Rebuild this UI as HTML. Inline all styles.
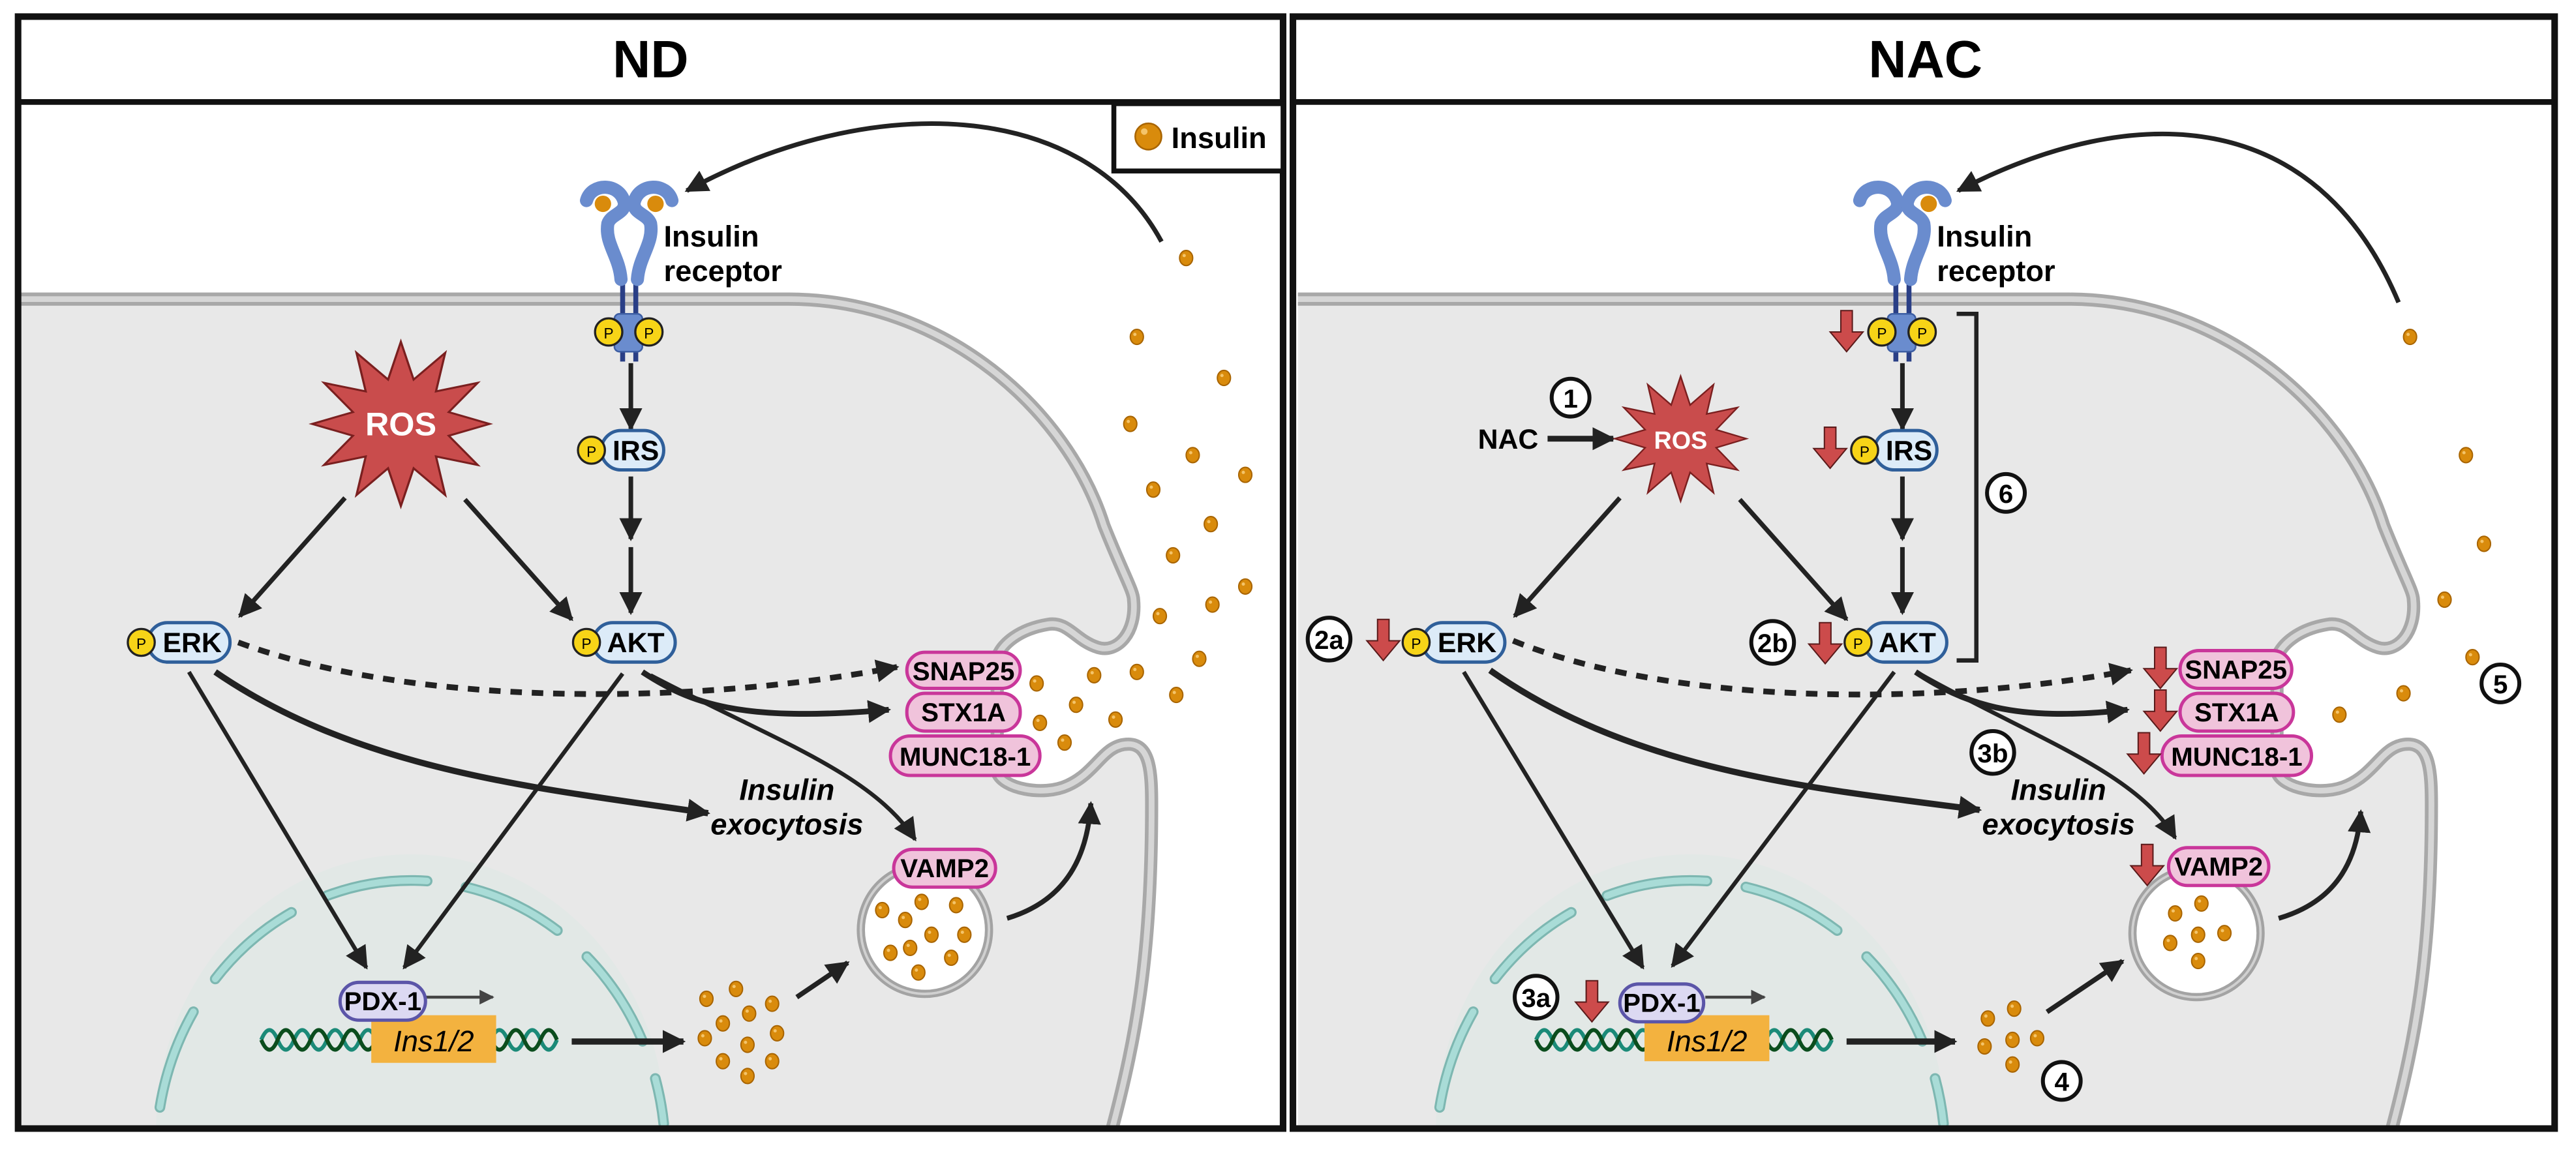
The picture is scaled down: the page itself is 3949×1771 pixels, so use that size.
<!DOCTYPE html>
<html><head><meta charset="utf-8"><style>
html,body{margin:0;padding:0;background:#fff;overflow:hidden;width:3949px;height:1771px;}
svg{display:block;overflow:hidden;}
text{font-family:"Liberation Sans",sans-serif;font-weight:bold;}
text.n{font-weight:normal;}
</style></head><body>
<svg width="3949" height="1771" viewBox="0 0 1568 703" xmlns="http://www.w3.org/2000/svg">
<defs>
<marker id="ah" markerUnits="userSpaceOnUse" markerWidth="14" markerHeight="14" viewBox="0 0 10 10" refX="9" refY="5" orient="auto"><path d="M0,0 L10,5 L0,10 Z" fill="#222"/></marker>
<marker id="ahs" markerUnits="userSpaceOnUse" markerWidth="9" markerHeight="9" viewBox="0 0 10 10" refX="9" refY="5" orient="auto"><path d="M0,0 L10,5 L0,10 Z" fill="#444"/></marker>
<g id="dot"><ellipse cx="0" cy="0" rx="4" ry="4.6" fill="#d98b0c" stroke="#a86400" stroke-width="0.8"/><circle cx="-1.2" cy="-1.5" r="1" fill="#f4c46a"/></g>
<g id="redar"><path d="M-3.5,0 h7 v13 h6.5 l-10,12 l-10,-12 h6.5 z" fill="#cc4b4b" stroke="#5a1a1a" stroke-width="0.8"/></g>
<g id="cell">
  <path d="M11 184 H480 C575 184 650 252 672 322 C684 350 690 360 690 365 C692 385 680 398 668 394 C655 390 650 378 638 380 C620 383 610 392 607 400 L607 470 C610 480 635 485 650 478 C668 470 672 452 688 453 C700 454 701 470 701 490 C701 580 692 630 677 687 L11 687 Z" fill="#e8e8e8"/>
  <path d="M11 182 H480 C575 182 650 250 672 320 C684 350 690 360 690 365 C692 385 680 398 668 394 C655 390 650 378 638 380 C620 383 610 392 607 400 L607 470 C610 480 635 485 650 478 C668 470 672 452 688 453 C700 454 701 470 701 490 C701 580 692 630 677 687" fill="none" stroke="#a8a8a8" stroke-width="8"/>
  <path d="M11 182 H480 C575 182 650 250 672 320 C684 350 690 360 690 365 C692 385 680 398 668 394 C655 390 650 378 638 380 C620 383 610 392 607 400 L607 470 C610 480 635 485 650 478 C668 470 672 452 688 453 C700 454 701 470 701 490 C701 580 692 630 677 687" fill="none" stroke="#d6d6d6" stroke-width="3.5"/>
  <path d="M95 687 A155 167 0 0 1 405 687 Z" fill="#e2e8e6"/>
  <path d="M96 684 A155 167 0 0 1 404 684" fill="none" stroke="#7db7b1" stroke-width="6.5" stroke-dasharray="62 24" stroke-dashoffset="-10" stroke-linecap="round"/>
  <path d="M96 684 A155 167 0 0 1 404 684" fill="none" stroke="#a9dcd7" stroke-width="4" stroke-dasharray="62 24" stroke-dashoffset="-10" stroke-linecap="round"/>
</g>
<g id="star"><path d="M0,-50 L7.2,-27 L25,-43.3 L19.8,-19.8 L43.3,-25 L27,-7.2 L50,0 L27,7.2 L43.3,25 L19.8,19.8 L25,43.3 L7.2,27 L0,50 L-7.2,27 L-25,43.3 L-19.8,19.8 L-43.3,25 L-27,7.2 L-50,0 L-27,-7.2 L-43.3,-25 L-19.8,-19.8 L-25,-43.3 L-7.2,-27 Z" fill="#c94c4c" stroke="#7a1f1f" stroke-width="1.2"/></g>
<g id="dna">
<path d="M0 0 q5 -12 10 0 t10 0 t10 0 t10 0 t10 0 t10 0 t10 0 t10 0 t10 0 t10 0 t10 0 t10 0 t10 0 t10 0 t10 0 t10 0 t10 0 t10 0" fill="none" stroke="#1b8a78" stroke-width="2.4"/>
<path d="M0 0 q5 12 10 0 t10 0 t10 0 t10 0 t10 0 t10 0 t10 0 t10 0 t10 0 t10 0 t10 0 t10 0 t10 0 t10 0 t10 0 t10 0 t10 0 t10 0" fill="none" stroke="#0b4d1d" stroke-width="2.4"/>
</g>
<g id="rec">
<line x1="379" y1="168" x2="379" y2="220" stroke="#2a3f86" stroke-width="3"/>
<line x1="387" y1="168" x2="387" y2="220" stroke="#2a3f86" stroke-width="3"/>
<rect x="374" y="191" width="17" height="23" rx="3" fill="#6a8cce" stroke="#3d5ea3" stroke-width="1"/>
<path d="M357 122 C360 111 377 111 380 123 C381 130 372 130 370 136 C368 148 377 156 378 170" fill="none" stroke="#6a8cce" stroke-width="8" stroke-linecap="round" stroke-linejoin="round"/>
<path d="M409 122 C406 111 389 111 386 123 C385 130 394 130 396 136 C398 148 389 156 388 170" fill="none" stroke="#6a8cce" stroke-width="8" stroke-linecap="round" stroke-linejoin="round"/>
</g>
</defs>

<!-- ============ LEFT PANEL ============ -->
<use href="#cell"/>
<g>
<use href="#dot" x="722" y="157"/><use href="#dot" x="692" y="205"/><use href="#dot" x="745" y="230"/><use href="#dot" x="688" y="258"/><use href="#dot" x="726" y="277"/><use href="#dot" x="758" y="289"/><use href="#dot" x="702" y="298"/><use href="#dot" x="737" y="319"/><use href="#dot" x="714" y="338"/><use href="#dot" x="758" y="357"/><use href="#dot" x="738" y="368"/><use href="#dot" x="706" y="375"/><use href="#dot" x="730" y="401"/><use href="#dot" x="692" y="409"/><use href="#dot" x="666" y="411"/><use href="#dot" x="631" y="416"/><use href="#dot" x="655" y="429"/><use href="#dot" x="716" y="423"/><use href="#dot" x="679" y="438"/><use href="#dot" x="633" y="440"/><use href="#dot" x="648" y="452"/>
</g>
<rect x="11" y="10" width="770" height="677" fill="none" stroke="#111" stroke-width="4"/>
<line x1="11" y1="62" x2="781" y2="62" stroke="#111" stroke-width="3.5"/>
<text x="396" y="47" font-size="32" text-anchor="middle">ND</text>
<rect x="678" y="63" width="103" height="41" fill="#fff" stroke="#111" stroke-width="3"/>
<circle cx="699" cy="83" r="8" fill="#d98b0c" stroke="#a86400" stroke-width="1"/><circle cx="696.5" cy="80" r="2" fill="#f4c46a"/>
<text x="713" y="90" font-size="18">Insulin</text>

<path d="M707 147 C660 60 530 55 418 116" fill="none" stroke="#222" stroke-width="2.8" marker-end="url(#ah)"/>

<use href="#rec"/>
<circle cx="367" cy="124" r="5" fill="#d98b0c"/><circle cx="399" cy="124" r="5" fill="#d98b0c"/>
<circle cx="370.5" cy="202" r="8.3" fill="#f7d417" stroke="#222" stroke-width="1.3"/><text class="n" x="370.5" y="206" font-size="9" text-anchor="middle">P</text>
<circle cx="395" cy="202" r="8.3" fill="#f7d417" stroke="#222" stroke-width="1.3"/><text class="n" x="395" y="206" font-size="9" text-anchor="middle">P</text>
<text x="404" y="150" font-size="18">Insulin</text>
<text x="404" y="171" font-size="18">receptor</text>

<use href="#star" transform="translate(244,258) scale(1.08,1.0)"/>
<text x="244" y="265" font-size="20" fill="#fff" text-anchor="middle">ROS</text>

<g fill="none" stroke="#222" stroke-width="2.8">
<line x1="384" y1="221" x2="384" y2="261" marker-end="url(#ah)"/>
<line x1="384" y1="290" x2="384" y2="328" marker-end="url(#ah)"/>
<line x1="384" y1="333" x2="384" y2="373" marker-end="url(#ah)"/>
<line x1="210" y1="303" x2="146" y2="375" marker-end="url(#ah)"/>
<line x1="283" y1="304" x2="348" y2="377" marker-end="url(#ah)"/>
<path d="M145 391 C250 430 420 430 546 406" stroke-width="3.5" stroke-dasharray="7 6" marker-end="url(#ah)"/>
<path d="M391 409 C420 428 450 440 541 432" stroke-width="3.5" marker-end="url(#ah)"/>
<path d="M396 411 C470 450 530 470 557 511" stroke-width="2.5" marker-end="url(#ah)"/>
<path d="M131 409 C220 470 330 480 431 495" stroke-width="3.8" marker-end="url(#ah)"/>
<line x1="115" y1="409" x2="223" y2="589" stroke-width="2.5" marker-end="url(#ah)"/>
<line x1="379" y1="410" x2="246" y2="589" stroke-width="2.5" marker-end="url(#ah)"/>
<line x1="348" y1="634" x2="416" y2="634" stroke-width="3.8" marker-end="url(#ah)"/>
<line x1="485" y1="607" x2="516" y2="586" stroke-width="3" marker-end="url(#ah)"/>
<path d="M613 559 C650 548 662 520 664 489" stroke-width="3" marker-end="url(#ah)"/>
</g>

<rect x="90" y="379" width="50" height="24" rx="12" fill="#dcebf8" stroke="#2f5f9a" stroke-width="2"/>
<text x="117" y="397" font-size="17" text-anchor="middle">ERK</text>
<circle cx="86" cy="391" r="8.2" fill="#f7d417" stroke="#222" stroke-width="1.3"/><text class="n" x="86" y="395" font-size="9" text-anchor="middle">P</text>
<rect x="361" y="379" width="50" height="24" rx="12" fill="#dcebf8" stroke="#2f5f9a" stroke-width="2"/>
<text x="387" y="397" font-size="17" text-anchor="middle">AKT</text>
<circle cx="357" cy="391" r="8.2" fill="#f7d417" stroke="#222" stroke-width="1.3"/><text class="n" x="357" y="395" font-size="9" text-anchor="middle">P</text>
<rect x="366" y="262" width="38" height="24" rx="12" fill="#dcebf8" stroke="#2f5f9a" stroke-width="2"/>
<text x="387" y="280" font-size="17" text-anchor="middle">IRS</text>
<circle cx="360" cy="274" r="8.2" fill="#f7d417" stroke="#222" stroke-width="1.3"/><text class="n" x="360" y="278" font-size="9" text-anchor="middle">P</text>

<rect x="552" y="397" width="69" height="22" rx="11" fill="#f0c3db" stroke="#c9369a" stroke-width="2"/>
<text x="586.5" y="414" font-size="16" text-anchor="middle">SNAP25</text>
<rect x="552" y="422" width="69" height="23" rx="11" fill="#f0c3db" stroke="#c9369a" stroke-width="2"/>
<text x="586.5" y="439" font-size="16" text-anchor="middle">STX1A</text>
<rect x="542" y="448" width="91" height="24" rx="12" fill="#f0c3db" stroke="#c9369a" stroke-width="2"/>
<text x="587.5" y="466" font-size="16" text-anchor="middle">MUNC18-1</text>

<text x="479" y="487" font-size="18" font-style="italic" text-anchor="middle">Insulin</text>
<text x="479" y="508" font-size="18" font-style="italic" text-anchor="middle">exocytosis</text>

<circle cx="563" cy="566" r="39" fill="#fff" stroke="#a3a3a3" stroke-width="5"/>
<circle cx="563" cy="566" r="39" fill="none" stroke="#d0d0d0" stroke-width="1.5"/>
<use href="#dot" x="537" y="554"/><use href="#dot" x="561" y="549"/><use href="#dot" x="582" y="551"/><use href="#dot" x="551" y="560"/><use href="#dot" x="567" y="569"/><use href="#dot" x="587" y="569"/><use href="#dot" x="542" y="580"/><use href="#dot" x="554" y="577"/><use href="#dot" x="579" y="583"/><use href="#dot" x="559" y="592"/>
<rect x="544" y="517" width="62" height="23" rx="11.5" fill="#f0c3db" stroke="#c9369a" stroke-width="2"/>
<text x="575" y="534" font-size="16" text-anchor="middle">VAMP2</text>

<use href="#dna" x="159" y="633"/>
<rect x="226" y="618" width="76" height="29" fill="#f3b23f"/>
<text class="n" x="264" y="640" font-size="18" font-style="italic" text-anchor="middle">Ins1/2</text>
<line x1="259" y1="607" x2="300" y2="607" stroke="#444" stroke-width="1.8" marker-end="url(#ahs)"/>
<rect x="207" y="598" width="52" height="23" rx="11.5" fill="#dcd9f2" stroke="#5b55a8" stroke-width="2"/>
<text x="233" y="615" font-size="16" text-anchor="middle">PDX-1</text>
<use href="#dot" x="430" y="608"/><use href="#dot" x="448" y="602"/><use href="#dot" x="470" y="611"/><use href="#dot" x="456" y="617"/><use href="#dot" x="440" y="623"/><use href="#dot" x="473" y="629"/><use href="#dot" x="429" y="632"/><use href="#dot" x="455" y="636"/><use href="#dot" x="440" y="646"/><use href="#dot" x="470" y="646"/><use href="#dot" x="455" y="655"/>

<!-- ============ RIGHT PANEL ============ -->
<use href="#cell" transform="translate(779,0)"/>
<use href="#dot" x="1467" y="205"/><use href="#dot" x="1501" y="277"/><use href="#dot" x="1512" y="331"/><use href="#dot" x="1488" y="365"/><use href="#dot" x="1505" y="400"/><use href="#dot" x="1463" y="422"/><use href="#dot" x="1424" y="435"/>
<rect x="787" y="10" width="768" height="677" fill="none" stroke="#111" stroke-width="4"/>
<line x1="787" y1="62" x2="1555" y2="62" stroke="#111" stroke-width="3.5"/>
<text x="1172" y="47" font-size="32" text-anchor="middle">NAC</text>

<path d="M1460 184 C1410 65 1300 60 1192 116" fill="none" stroke="#222" stroke-width="2.8" marker-end="url(#ah)"/>

<use href="#rec" transform="translate(775,0)"/>
<circle cx="1174" cy="124" r="5" fill="#d98b0c"/>
<circle cx="1145.5" cy="202" r="8.3" fill="#f7d417" stroke="#222" stroke-width="1.3"/><text class="n" x="1145.5" y="206" font-size="9" text-anchor="middle">P</text>
<circle cx="1170" cy="202" r="8.3" fill="#f7d417" stroke="#222" stroke-width="1.3"/><text class="n" x="1170" y="206" font-size="9" text-anchor="middle">P</text>
<text x="1179" y="150" font-size="18">Insulin</text>
<text x="1179" y="171" font-size="18">receptor</text>
<use href="#redar" x="1124" y="189"/>
<path d="M1191 191 H1203 V402 H1191" fill="none" stroke="#222" stroke-width="2.6"/>

<g fill="#fff" stroke="#111" stroke-width="2.4">
<circle cx="956" cy="242" r="11.5"/><circle cx="1221" cy="300" r="11.5"/><circle cx="809" cy="389" r="13"/><circle cx="1079" cy="391" r="13"/><circle cx="1213" cy="458" r="13"/><circle cx="935" cy="607" r="13"/><circle cx="1255" cy="658" r="11.5"/><circle cx="1522" cy="416" r="11.5"/>
</g>
<g font-size="16" text-anchor="middle">
<text x="956" y="248">1</text><text x="1221" y="306">6</text><text x="809" y="395">2a</text><text x="1079" y="397">2b</text><text x="1213" y="464">3b</text><text x="935" y="613">3a</text><text x="1255" y="664">4</text><text x="1522" y="422">5</text>
</g>

<text x="918" y="273" font-size="17" text-anchor="middle">NAC</text>
<line x1="942" y1="267" x2="982" y2="267" stroke="#222" stroke-width="3.5" marker-end="url(#ah)"/>
<use href="#star" transform="translate(1023,267) scale(0.8,0.76)"/>
<text x="1023" y="273" font-size="15" fill="#fff" text-anchor="middle">ROS</text>

<g fill="none" stroke="#222" stroke-width="2.8">
<line x1="1158" y1="221" x2="1158" y2="261" marker-end="url(#ah)"/>
<line x1="1158" y1="290" x2="1158" y2="328" marker-end="url(#ah)"/>
<line x1="1158" y1="333" x2="1158" y2="373" marker-end="url(#ah)"/>
<line x1="986" y1="303" x2="922" y2="375" marker-end="url(#ah)"/>
<line x1="1059" y1="304" x2="1124" y2="377" marker-end="url(#ah)"/>
<path d="M921 390 C1020 430 1180 430 1297 408" stroke-width="3.5" stroke-dasharray="7 6" marker-end="url(#ah)"/>
<path d="M1166 409 C1195 428 1225 440 1295 432" stroke-width="3.5" marker-end="url(#ah)"/>
<path d="M1170 411 C1240 450 1300 470 1324 510" stroke-width="2.5" marker-end="url(#ah)"/>
<path d="M907 408 C995 470 1105 480 1205 493" stroke-width="3.8" marker-end="url(#ah)"/>
<line x1="891" y1="409" x2="1000" y2="589" stroke-width="2.5" marker-end="url(#ah)"/>
<line x1="1153" y1="409" x2="1018" y2="588" stroke-width="2.5" marker-end="url(#ah)"/>
<line x1="1124" y1="634" x2="1190" y2="634" stroke-width="3.8" marker-end="url(#ah)"/>
<line x1="1246" y1="616" x2="1292" y2="585" stroke-width="3" marker-end="url(#ah)"/>
<path d="M1387 559 C1425 548 1435 520 1437 494" stroke-width="3" marker-end="url(#ah)"/>
</g>

<rect x="866" y="379" width="50" height="24" rx="12" fill="#dcebf8" stroke="#2f5f9a" stroke-width="2"/>
<text x="893" y="397" font-size="17" text-anchor="middle">ERK</text>
<circle cx="862" cy="391" r="8.2" fill="#f7d417" stroke="#222" stroke-width="1.3"/><text class="n" x="862" y="395" font-size="9" text-anchor="middle">P</text>
<use href="#redar" x="842" y="377"/>
<rect x="1135" y="379" width="50" height="24" rx="12" fill="#dcebf8" stroke="#2f5f9a" stroke-width="2"/>
<text x="1161" y="397" font-size="17" text-anchor="middle">AKT</text>
<circle cx="1131" cy="391" r="8.2" fill="#f7d417" stroke="#222" stroke-width="1.3"/><text class="n" x="1131" y="395" font-size="9" text-anchor="middle">P</text>
<use href="#redar" x="1111" y="379"/>
<rect x="1141" y="262" width="38" height="24" rx="12" fill="#dcebf8" stroke="#2f5f9a" stroke-width="2"/>
<text x="1162" y="280" font-size="17" text-anchor="middle">IRS</text>
<circle cx="1135" cy="274" r="8.2" fill="#f7d417" stroke="#222" stroke-width="1.3"/><text class="n" x="1135" y="278" font-size="9" text-anchor="middle">P</text>
<use href="#redar" x="1114" y="260"/>

<rect x="1327" y="396" width="68" height="23" rx="11.5" fill="#f0c3db" stroke="#c9369a" stroke-width="2"/>
<text x="1361" y="413" font-size="16" text-anchor="middle">SNAP25</text>
<use href="#redar" x="1315" y="394"/>
<rect x="1327" y="422" width="69" height="23" rx="11.5" fill="#f0c3db" stroke="#c9369a" stroke-width="2"/>
<text x="1361.5" y="439" font-size="16" text-anchor="middle">STX1A</text>
<use href="#redar" x="1315" y="420"/>
<rect x="1316" y="448" width="91" height="24" rx="12" fill="#f0c3db" stroke="#c9369a" stroke-width="2"/>
<text x="1361.5" y="466" font-size="16" text-anchor="middle">MUNC18-1</text>
<use href="#redar" x="1305" y="446"/>

<text x="1253" y="487" font-size="18" font-style="italic" text-anchor="middle">Insulin</text>
<text x="1253" y="508" font-size="18" font-style="italic" text-anchor="middle">exocytosis</text>

<circle cx="1337" cy="568" r="39" fill="#fff" stroke="#a3a3a3" stroke-width="5"/>
<circle cx="1337" cy="568" r="39" fill="none" stroke="#d0d0d0" stroke-width="1.5"/>
<use href="#dot" x="1324" y="556"/><use href="#dot" x="1340" y="550"/><use href="#dot" x="1338" y="569"/><use href="#dot" x="1354" y="568"/><use href="#dot" x="1321" y="574"/><use href="#dot" x="1338" y="585"/>
<rect x="1320" y="516" width="61" height="23" rx="11.5" fill="#f0c3db" stroke="#c9369a" stroke-width="2"/>
<text x="1350.5" y="533" font-size="16" text-anchor="middle">VAMP2</text>
<use href="#redar" x="1307" y="514"/>

<use href="#dna" x="935" y="633"/>
<rect x="1001" y="618" width="76" height="28" fill="#f3b23f"/>
<text class="n" x="1039" y="640" font-size="18" font-style="italic" text-anchor="middle">Ins1/2</text>
<line x1="1038" y1="607" x2="1074" y2="607" stroke="#444" stroke-width="1.8" marker-end="url(#ahs)"/>
<rect x="986" y="599" width="51" height="23" rx="11.5" fill="#dcd9f2" stroke="#5b55a8" stroke-width="2"/>
<text x="1011.5" y="616" font-size="16" text-anchor="middle">PDX-1</text>
<use href="#redar" x="969" y="597"/>
<use href="#dot" x="1210" y="620"/><use href="#dot" x="1226" y="614"/><use href="#dot" x="1225" y="633"/><use href="#dot" x="1240" y="632"/><use href="#dot" x="1208" y="637"/><use href="#dot" x="1225" y="648"/>
</svg>
</body></html>
